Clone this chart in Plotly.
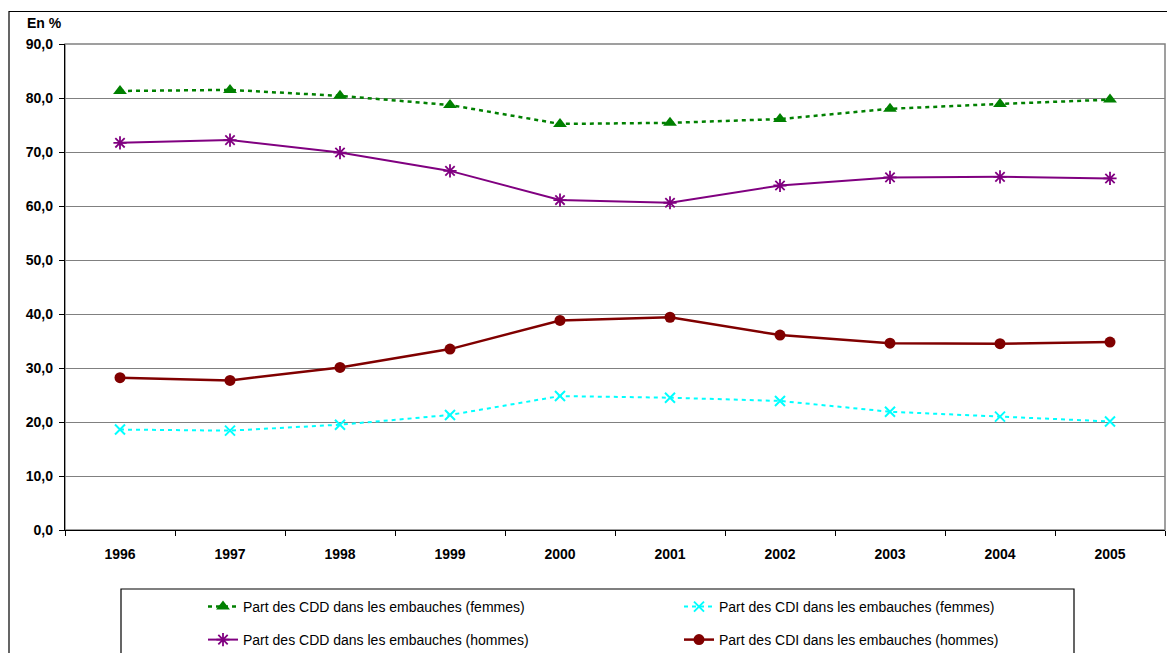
import plotly.graph_objects as go

years = ["1996", "1997", "1998", "1999", "2000", "2001", "2002", "2003", "2004", "2005"]
cdd_femmes = [81.3, 81.5, 80.4, 78.7, 75.2, 75.4, 76.1, 78.0, 78.9, 79.7]
cdi_femmes = [18.6, 18.4, 19.5, 21.3, 24.8, 24.5, 23.9, 21.9, 21.0, 20.1]
cdd_hommes = [71.7, 72.2, 69.9, 66.5, 61.1, 60.6, 63.8, 65.3, 65.4, 65.1]
cdi_hommes = [28.2, 27.7, 30.1, 33.5, 38.8, 39.4, 36.1, 34.6, 34.5, 34.8]

names = [
    "Part des CDD dans les embauches (femmes)",
    "Part des CDI dans les embauches (femmes)",
    "Part des CDD dans les embauches (hommes)",
    "Part des CDI dans les embauches (hommes)",
]

W, H = 1167, 653
ML, MR, MT, MB = 65, 2, 44, 123
PW, PH = W - ML - MR, H - MT - MB


def px(x):
    return (x - ML) / PW


def py(y):
    return (H - MB - y) / PH


def cy(y):
    return 1 - y / H


FONT = "Liberation Sans, Arial, sans-serif"

fig = go.Figure()
fig.add_trace(go.Scatter(
    x=years, y=cdd_femmes, name=names[0], mode="lines+markers",
    line=dict(color="#008000", width=2.5, dash="4px,4px"),
    marker=dict(symbol="triangle-up", size=12, color="#008000"),
    legend="legend",
))
fig.add_trace(go.Scatter(
    x=years, y=cdi_femmes, name=names[1], mode="lines+markers",
    line=dict(color="#00FFFF", width=2, dash="4px,4px"),
    marker=dict(symbol="x-thin-open", size=10, color="#00FFFF",
                line=dict(color="#00FFFF", width=2)),
    legend="legend",
))
fig.add_trace(go.Scatter(
    x=years, y=cdd_hommes, name=names[2], mode="lines+markers",
    line=dict(color="#800080", width=2),
    marker=dict(symbol="asterisk-open", size=11, color="#800080",
                line=dict(color="#800080", width=1.8)),
    legend="legend2",
))
fig.add_trace(go.Scatter(
    x=years, y=cdi_hommes, name=names[3], mode="lines+markers",
    line=dict(color="#800000", width=2.5),
    marker=dict(symbol="circle", size=11, color="#800000"),
    legend="legend2",
))

legend_common = dict(
    orientation="h", xanchor="left", yanchor="middle",
    xref="container", yref="container",
    x=203 / W, entrywidth=431, entrywidthmode="pixels",
    bgcolor="rgba(0,0,0,0)", borderwidth=0,
    font=dict(family=FONT, size=14, color="#000000"),
)

fig.update_layout(
    width=W, height=H,
    margin=dict(l=ML, r=MR, t=MT, b=MB, autoexpand=False),
    paper_bgcolor="white", plot_bgcolor="white",
    separators=", ",
    showlegend=True,
    font=dict(family=FONT, color="#000000"),
    legend=dict(legend_common, y=cy(607)),
    legend2=dict(legend_common, y=cy(640)),
    xaxis=dict(
        type="category", range=[-0.5, 9.5], automargin=False,
        showgrid=False, showline=True, linecolor="#000000", linewidth=1.3,
        ticks="outside", tickson="boundaries", ticklen=5, tickcolor="#000000",
        tickwidth=1.3, ticklabelstandoff=11,
        tickfont=dict(size=14, family=FONT, weight="bold"),
        fixedrange=True,
    ),
    yaxis=dict(
        range=[0, 90], dtick=10, tick0=0, tickformat=".1f", automargin=False,
        showgrid=True, gridcolor="#808080", gridwidth=1.3,
        showline=True, linecolor="#000000", linewidth=1.3,
        ticks="outside", ticklen=5, tickcolor="#000000", tickwidth=1.3,
        ticklabelstandoff=3, zeroline=False,
        tickfont=dict(size=14, family=FONT, weight="bold"),
        fixedrange=True,
    ),
    shapes=[
        dict(type="rect", xref="paper", yref="paper", x0=0, x1=1, y0=0, y1=1,
             line=dict(color="#808080", width=1.5), layer="below"),
        dict(type="rect", xref="paper", yref="paper",
             x0=px(9), x1=px(1180), y0=py(670), y1=py(11.5),
             line=dict(color="#000000", width=1.2)),
        dict(type="rect", xref="paper", yref="paper",
             x0=px(121), x1=px(1074), y0=py(670), y1=py(589),
             line=dict(color="#000000", width=1.2)),
    ],
    annotations=[
        dict(text="<b>En %</b>", xref="paper", yref="paper",
             x=px(25), y=py(23), xanchor="left", yanchor="middle",
             showarrow=False, font=dict(size=14, color="#000000")),
    ],
)

fig.write_html(
    "out.html",
    config={"displayModeBar": False},
    post_script=(
        "document.documentElement.style.margin='0';"
        "document.documentElement.style.overflow='hidden';"
        "document.body.style.margin='0';"
        "document.body.style.overflow='hidden';"
    ),
)
